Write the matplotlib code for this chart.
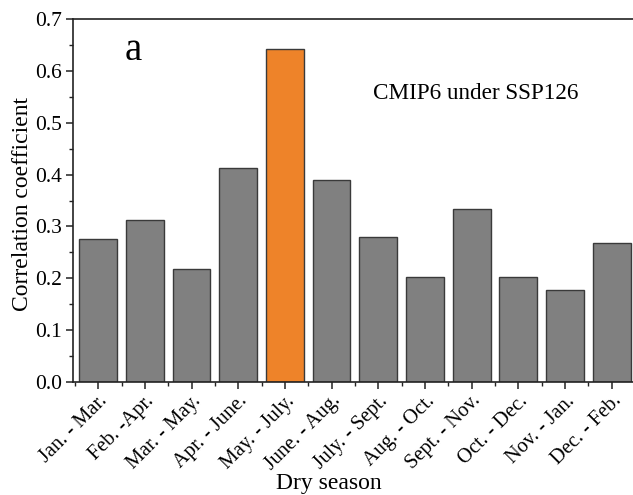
import matplotlib
matplotlib.use("Agg")
import matplotlib.pyplot as plt
from matplotlib.ticker import MultipleLocator, FixedLocator

plt.rcParams['font.family'] = ['Liberation Serif', 'DejaVu Serif']

seasons = ["Jan. - Mar.", "Feb. -Apr.", "Mar. - May.", "Apr. - June.", "May. - July.",
           "June. - Aug.", "July. - Sept.", "Aug. - Oct.", "Sept. - Nov.", "Oct. - Dec.",
           "Nov. - Jan.", "Dec. - Feb."]
values = [0.275, 0.313, 0.218, 0.412, 0.643, 0.390, 0.279, 0.203, 0.333, 0.202, 0.177, 0.267]
highlight = "May. - July."
yticks = [0.0, 0.1, 0.2, 0.3, 0.4, 0.5, 0.6, 0.7]

gray = "#808080"
orange = "#EE8329"
colors = [orange if s == highlight else gray for s in seasons]

W, H = 633, 495
fig = plt.figure(figsize=(W/100, H/100), dpi=100)
ax = fig.add_axes([73/W, 1-381.7/H, (635-73)/W, (381.7-19.3)/H])

x = list(range(len(seasons)))
ax.bar(x, values, width=0.81, color=colors, edgecolor="#3a3a3a", linewidth=1.0, zorder=2)

ax.set_xlim(-0.54, 11.5)
ax.set_ylim(0, 0.7)
ax.set_yticks(yticks)
ax.set_yticklabels([f"{v:.1f}" for v in yticks])
ax.yaxis.set_minor_locator(MultipleLocator(0.05))
ax.set_xticks(x)
ax.set_xticklabels(seasons, rotation=45, ha='right', va='top', rotation_mode='anchor')
ax.xaxis.set_minor_locator(FixedLocator([i + 0.5 for i in range(-1, 12)]))

ax.tick_params(axis='both', which='major', direction='out', length=5, width=1.1, color='#222222')
ax.tick_params(axis='y', which='major', labelsize=15.5, pad=3)
ax.tick_params(axis='both', which='minor', direction='out', length=3, width=1.0, color='#222222')
ax.tick_params(axis='x', which='major', labelsize=14.7, pad=2)

for side in ['left', 'bottom', 'top']:
    ax.spines[side].set_linewidth(1.2)
    ax.spines[side].set_color('#222222')
ax.spines['right'].set_visible(False)

ax.set_ylabel("Correlation coefficient", fontsize=17)
ax.yaxis.set_label_coords(-0.072, 0.49)
ax.set_xlabel("Dry season", fontsize=17)
ax.xaxis.set_label_coords((329-73)/(635-73), -0.252)

fig.text(133/W, 1-60/H, "a", fontsize=28, ha='center', va='baseline')
fig.text(475.5/W, 1-99.3/H, "CMIP6 under SSP126", fontsize=16.7, ha='center', va='baseline')

fig.savefig("out.png", dpi=100)
